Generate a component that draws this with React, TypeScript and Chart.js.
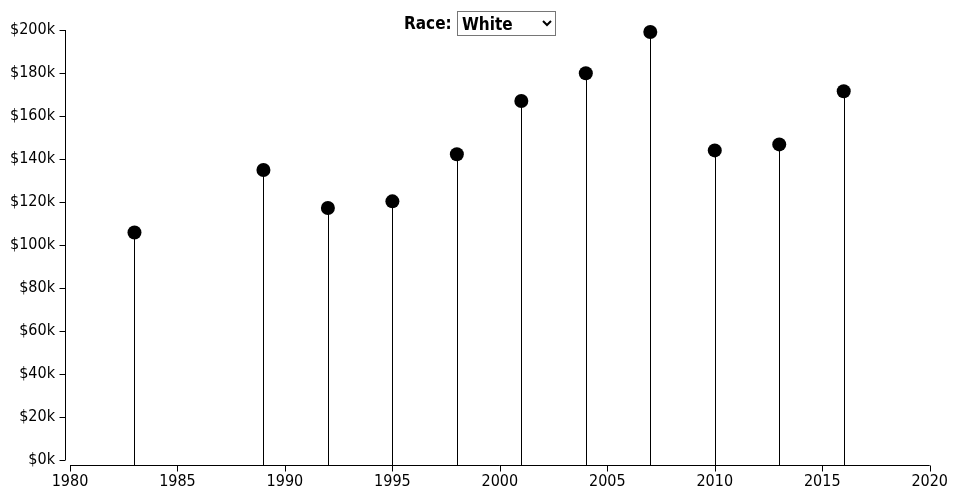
import React, { useEffect, useRef } from "react";
import { Chart, registerables } from "chart.js";

Chart.register(...registerables);

const years = [1983, 1989, 1992, 1995, 1998, 2001, 2004, 2007, 2010, 2013, 2016];
const values = [105800, 134900, 117200, 120300, 142200, 167000, 179900, 199100, 144000, 146800, 171500];
const xTicks = [1980, 1985, 1990, 1995, 2000, 2005, 2010, 2015, 2020];
const yTicks = [0, 20000, 40000, 60000, 80000, 100000, 120000, 140000, 160000, 180000, 200000];
const raceOptions = ["White", "Black", "Hispanic", "Other"];

const FONT = "'DejaVu Sans Condensed', 'Liberation Sans Narrow', sans-serif";
const GAP = 5;
const TICK = 6;

const axesPlugin = {
  id: "lollipopAxes",
  beforeDatasetsDraw(chart: any) {
    const { ctx, chartArea, scales } = chart;
    const xs = scales.x;
    const ys = scales.y;
    ctx.save();
    ctx.strokeStyle = "#000";
    ctx.lineWidth = 1;
    years.forEach((yr, i) => {
      const px = Math.round(xs.getPixelForValue(yr)) + 0.5;
      const py = ys.getPixelForValue(values[i]);
      ctx.beginPath();
      ctx.moveTo(px, py);
      ctx.lineTo(px, chartArea.bottom + GAP);
      ctx.stroke();
    });
    const xAxisY = Math.round(chartArea.bottom + GAP) + 0.5;
    ctx.beginPath();
    ctx.moveTo(xs.getPixelForValue(xTicks[0]), xAxisY);
    ctx.lineTo(xs.getPixelForValue(xTicks[xTicks.length - 1]), xAxisY);
    ctx.stroke();
    xTicks.forEach((t) => {
      const px = Math.round(xs.getPixelForValue(t)) + 0.5;
      ctx.beginPath();
      ctx.moveTo(px, xAxisY);
      ctx.lineTo(px, xAxisY + TICK);
      ctx.stroke();
    });
    const yAxisX = Math.round(chartArea.left - GAP) + 0.5;
    ctx.beginPath();
    ctx.moveTo(yAxisX, ys.getPixelForValue(yTicks[0]));
    ctx.lineTo(yAxisX, ys.getPixelForValue(yTicks[yTicks.length - 1]));
    ctx.stroke();
    yTicks.forEach((t) => {
      const py = Math.round(ys.getPixelForValue(t)) + 0.5;
      ctx.beginPath();
      ctx.moveTo(yAxisX, py);
      ctx.lineTo(yAxisX - TICK, py);
      ctx.stroke();
    });
    ctx.restore();
  },
};

export default function App() {
  const canvasRef = useRef<HTMLCanvasElement | null>(null);

  useEffect(() => {
    if (!canvasRef.current) return;
    const chart = new Chart(canvasRef.current, {
      type: "scatter",
      data: {
        datasets: [
          {
            data: years.map((x, i) => ({ x, y: values[i] })),
            pointRadius: 7,
            pointHoverRadius: 7,
            pointBackgroundColor: "#000",
            pointBorderColor: "#000",
            pointBorderWidth: 0,
            clip: false,
          } as any,
        ],
      },
      options: {
        animation: false,
        responsive: false,
        events: [],
        layout: { padding: { left: 0, top: 30, right: 30, bottom: 0 } },
        plugins: { legend: { display: false }, tooltip: { enabled: false } },
        scales: {
          x: {
            type: "linear",
            min: xTicks[0],
            max: xTicks[xTicks.length - 1],
            afterBuildTicks: (scale: any) => {
              scale.ticks = xTicks.map((v) => ({ value: v }));
            },
            afterFit: (scale: any) => {
              scale.height = 40;
            },
            grid: { display: false, drawTicks: false },
            border: { display: false },
            ticks: {
              color: "#000",
              font: { family: FONT, size: 16 },
              padding: 12,
              maxRotation: 0,
              autoSkip: false,
              callback: (v: any) => String(v),
            },
          },
          y: {
            type: "linear",
            min: yTicks[0],
            max: yTicks[yTicks.length - 1],
            afterBuildTicks: (scale: any) => {
              scale.ticks = yTicks.map((v) => ({ value: v }));
            },
            afterFit: (scale: any) => {
              scale.width = 70;
            },
            grid: { display: false, drawTicks: false },
            border: { display: false },
            ticks: {
              color: "#000",
              font: { family: FONT, size: 16 },
              padding: 15,
              autoSkip: false,
              callback: (v: any) => "$" + Math.round(Number(v) / 1000) + "k",
            },
          },
        },
      },
      plugins: [axesPlugin],
    });
    return () => chart.destroy();
  }, []);

  return (
    <div style={{ position: "absolute", left: 0, top: 0, width: 960, height: 500, background: "#fff" }}>
      <canvas ref={canvasRef} width={960} height={500} style={{ position: "absolute", left: 0, top: 0 }} />
      <div
        style={{
          position: "absolute",
          top: 11,
          left: 0,
          width: 960,
          textAlign: "center",
          fontFamily: FONT,
          fontWeight: "bold",
          fontSize: 17,
        }}
      >
        <label>
          Race:{" "}
          <select
            defaultValue="White"
            style={{
              fontFamily: FONT,
              fontWeight: "bold",
              fontSize: 17,
              width: 99,
              height: 25,
              padding: 0,
              background: "#fff",
              color: "#000",
              verticalAlign: "middle",
            }}
          >
            {raceOptions.map((r) => (
              <option key={r} value={r}>
                {r}
              </option>
            ))}
          </select>
        </label>
      </div>
    </div>
  );
}
